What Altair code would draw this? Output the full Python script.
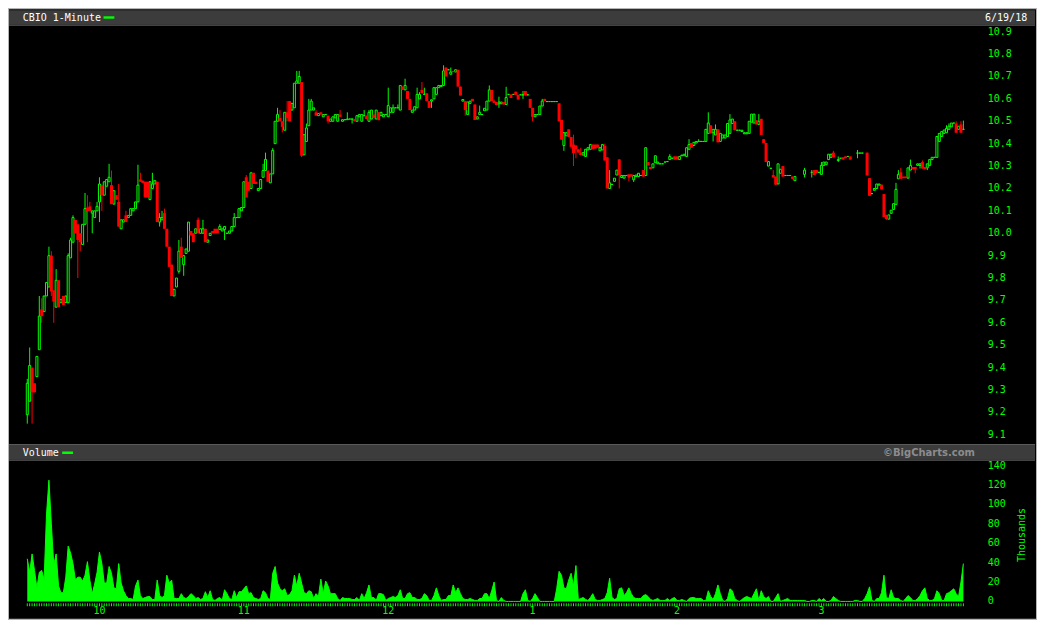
import altair as alt
import pandas as pd

# ---------------- canvas ----------------
W, H = 1030, 612
SX, SY = W / 1045.0, H / 635.0


def px(v):
    return round(v * SX, 2)


def py(v):
    return round(v * SY, 2)


GREEN = "#00ff00"
RED = "#ff0000"
MONO = "DejaVu Sans Mono"

# ---------------- data ----------------
ticker_title = "CBIO 1-Minute"
date_label = "6/19/18"

# 1-minute candles, 9:30 .. 15:59 (index = minutes after 9:30); None = no trade
opens = [
    9.19, 9.25, 9.40, 9.33, 9.36, 9.48, 9.66, 9.65, 9.72, 9.76,
    9.90, 9.745, 9.67, 9.79, 9.69, 9.72, 9.69, 9.69, 9.89, 9.96,
    10.06, 10.04, 10.00, 9.95, 10.04, 10.115, 10.12, 10.09, 10.07, 10.10,
    10.14, 10.215, 10.17, 10.21, 10.23, 10.215, 10.13, 10.17, 10.14, 10.02,
    10.05, 10.08, 10.07, 10.08, 10.10, 10.11, 10.14, 10.24, 10.235, 10.23,
    10.23, 10.15, 10.20, 10.22, 10.23, 10.05, 10.06, 10.09, 10.02, 9.94,
    9.86, 9.72, 9.76, 9.83, 9.94, 9.86, 9.91, 9.92, 10.01, 10.00,
    10.00, 10.06, 10.00, 10.00, 10.02, 9.96, 9.99, 10.01, 10.02, 10.02,
    10.017, 10.01, 10.017, 10.00, 10.00, 10.01, 10.03, 10.07, 10.07, 10.10,
    10.115, 10.25, 10.23, 10.20, 10.27, 10.23, 10.19, 10.20, 10.25, 10.28,
    10.28, 10.225, 10.265, 10.40, 10.50, 10.515, 10.50, 10.46, 10.54, 10.59,
    10.55, 10.56, 10.67, 10.67, 10.675, 10.35, 10.41, 10.48, 10.55, 10.55,
    10.54, 10.525, 10.54, 10.52, 10.53, 10.525, 10.50, 10.50, 10.515, 10.50,
    10.53, 10.50, 10.507, 10.507, 10.51, 10.51, 10.51, 10.50, 10.52, 10.50,
    10.525, 10.525, 10.50, 10.51, 10.53, 10.51, 10.54, 10.525, 10.52, 10.53,
    10.52, 10.54, 10.54, 10.56, 10.56, 10.55, 10.655, 10.64, 10.635, 10.60,
    10.54, 10.55, 10.56, 10.60, 10.64, 10.62, 10.625, 10.59, 10.59, 10.60,
    10.62, 10.65, 10.655, 10.66, 10.74, 10.73, 10.71, 10.725, 10.72, 10.73,
    10.655, 10.59, 10.59, 10.53, 10.58, 10.60, 10.575, 10.51, 10.53, 10.53,
    10.547, 10.55, 10.59, 10.64, 10.59, 10.586, 10.578, 10.578, 10.586, 10.575,
    10.62, 10.62, 10.62, 10.632, 10.618, 10.618, 10.618, 10.635, 10.618, 10.60,
    10.56, 10.52, 10.53, 10.53, 10.568, 10.60, 10.588, 10.588, 10.588, 10.588,
    10.588, 10.58, 10.506, 10.392, 10.435, 10.464, 10.43, 10.396, 10.392, 10.375,
    10.36, 10.349, 10.343, 10.372, 10.375, 10.396, 10.396, 10.396, 10.368, 10.372,
    10.39, 10.339, 10.20, 10.218, 10.232, 10.26, 10.33, 10.249, 10.246, 10.258,
    10.263, 10.263, 10.239, 10.253, 10.253, 10.258, 10.282, 10.258, 10.318, 10.296,
    10.292, 10.315, 10.31, 10.31, 10.31, 10.318, 10.32, 10.329, 10.335, 10.343,
    10.343, 10.329, 10.346, 10.346, 10.343, 10.375, 10.403, 10.392, 10.403, 10.41,
    10.41, 10.41, 10.41, 10.446, 10.482, 10.449, 10.439, 10.464, 10.41, 10.425,
    10.425, 10.432, 10.446, 10.49, 10.50, 10.46, 10.46, 10.454, 10.444, 10.444,
    10.446, 10.496, 10.492, 10.504, 10.486, 10.511, 10.42, 10.403, 10.30, 10.29,
    10.26, 10.253, 10.22, 10.268, 10.30, 10.258, 10.258, 10.258, 10.253, 10.235,
    None, None, None, 10.263, None, None, 10.272, 10.282, 10.282, 10.272,
    10.263, 10.303, 10.306, 10.329, 10.339, 10.36, None, 10.325, 10.335, 10.339,
    10.343, 10.343, 10.343, None, None, 10.358, 10.358, 10.358, None, 10.36,
    10.246, 10.177, 10.192, 10.20, 10.215, 10.217, 10.175, 10.082, 10.063, 10.089,
    10.106, 10.129, 10.243, 10.272, 10.253, 10.253, 10.246, 10.282, 10.296, 10.296,
    10.303, 10.303, 10.318, 10.296, 10.292, 10.303, 10.329, 10.339, 10.339, 10.41,
    10.432, 10.446, 10.449, 10.464, 10.475, 10.492, 10.49, 10.464, 10.486, 10.464,
]

closes = [
    9.33, 9.41, 9.29, 9.29, 9.45, 9.63, 9.63, 9.72, 9.78, 9.90,
    9.74, 9.695, 9.79, 9.67, 9.705, 9.68, 9.72, 9.90, 9.97, 10.07,
    10.00, 9.97, 9.96, 10.04, 10.11, 10.10, 10.10, 10.10, 10.10, 10.12,
    10.22, 10.17, 10.23, 10.24, 10.25, 10.13, 10.19, 10.15, 10.03, 10.06,
    10.06, 10.05, 10.08, 10.11, 10.11, 10.14, 10.215, 10.23, 10.225, 10.16,
    10.16, 10.23, 10.22, 10.235, 10.05, 10.07, 10.07, 10.02, 9.94, 9.85,
    9.72, 9.75, 9.80, 9.92, 9.89, 9.90, 9.93, 10.05, 9.99, 9.96,
    10.02, 10.00, 10.02, 10.02, 9.96, 9.97, 10.00, 10.00, 10.00, 10.00,
    10.03, 10.02, 10.03, 10.00, 10.01, 10.03, 10.07, 10.07, 10.11, 10.115,
    10.23, 10.16, 10.19, 10.27, 10.22, 10.22, 10.20, 10.24, 10.28, 10.33,
    10.23, 10.265, 10.37, 10.50, 10.53, 10.50, 10.475, 10.54, 10.515, 10.50,
    10.58, 10.67, 10.68, 10.70, 10.346, 10.44, 10.47, 10.55, 10.59, 10.56,
    10.525, 10.535, 10.53, 10.53, 10.53, 10.50, 10.51, 10.52, 10.53, 10.53,
    10.52, 10.507, 10.507, 10.51, 10.51, 10.51, 10.50, 10.525, 10.53, 10.53,
    10.525, 10.51, 10.54, 10.55, 10.515, 10.55, 10.505, 10.54, 10.53, 10.53,
    10.57, 10.56, 10.56, 10.56, 10.56, 10.66, 10.64, 10.66, 10.60, 10.55,
    10.55, 10.565, 10.62, 10.62, 10.625, 10.62, 10.59, 10.56, 10.596, 10.65,
    10.65, 10.66, 10.66, 10.725, 10.70, 10.73, 10.72, 10.72, 10.73, 10.655,
    10.615, 10.597, 10.55, 10.586, 10.59, 10.59, 10.506, 10.52, 10.54, 10.53,
    10.558, 10.59, 10.64, 10.59, 10.582, 10.572, 10.586, 10.586, 10.575, 10.606,
    10.62, 10.604, 10.62, 10.618, 10.597, 10.618, 10.618, 10.615, 10.618, 10.56,
    10.52, 10.53, 10.53, 10.568, 10.59, 10.59, 10.588, 10.588, 10.588, 10.588,
    10.588, 10.50, 10.418, 10.449, 10.449, 10.43, 10.386, 10.358, 10.375, 10.36,
    10.349, 10.36, 10.375, 10.382, 10.396, 10.375, 10.378, 10.382, 10.382, 10.396,
    10.325, 10.20, 10.225, 10.218, 10.246, 10.282, 10.26, 10.258, 10.258, 10.258,
    10.249, 10.253, 10.258, 10.26, 10.268, 10.258, 10.253, 10.382, 10.303, 10.286,
    10.31, 10.346, 10.318, 10.31, 10.31, 10.318, 10.32, 10.343, 10.335, 10.329,
    10.329, 10.343, 10.349, 10.353, 10.382, 10.396, 10.382, 10.406, 10.41, 10.41,
    10.41, 10.41, 10.464, 10.492, 10.446, 10.464, 10.464, 10.406, 10.446, 10.439,
    10.439, 10.49, 10.506, 10.51, 10.46, 10.46, 10.46, 10.46, 10.449, 10.449,
    10.50, 10.532, 10.532, 10.486, 10.50, 10.439, 10.403, 10.318, 10.32, 10.29,
    10.249, 10.217, 10.31, 10.286, 10.253, 10.258, 10.258, 10.258, 10.243, 10.253,
    None, None, None, 10.282, None, None, 10.272, 10.26, 10.268, 10.272,
    10.303, 10.318, 10.318, 10.353, 10.353, 10.339, None, 10.329, 10.335, 10.329,
    10.335, 10.343, 10.329, None, None, 10.358, 10.358, 10.358, None, 10.258,
    10.167, 10.177, 10.20, 10.22, 10.22, 10.196, 10.072, 10.063, 10.082, 10.103,
    10.132, 10.196, 10.263, 10.243, 10.246, 10.246, 10.292, 10.303, 10.286, 10.286,
    10.31, 10.31, 10.289, 10.286, 10.31, 10.329, 10.339, 10.339, 10.432, 10.446,
    10.454, 10.461, 10.468, 10.478, 10.492, 10.492, 10.449, 10.478, 10.449, 10.464,
]

# upper / lower shadows that reach beyond the candle body (minute index: price)
wick_high = {
    0: 9.35, 1: 9.49, 5: 9.72, 6: 9.71, 9: 9.94, 10: 9.92, 12: 9.84, 17: 9.91,
    18: 9.98, 19: 10.08, 24: 10.18, 25: 10.17, 26: 10.14, 29: 10.14, 30: 10.25,
    34: 10.31, 35: 10.28, 38: 10.22, 41: 10.10, 46: 10.306, 47: 10.27, 52: 10.27,
    55: 10.09, 56: 10.10, 57: 10.11, 63: 9.97, 64: 9.98, 71: 10.07, 73: 10.06,
    80: 10.04, 86: 10.09, 91: 10.26, 98: 10.31, 99: 10.36,
    102: 10.38, 104: 10.56, 105: 10.55, 108: 10.59, 112: 10.725, 113: 10.725,
    116: 10.49, 117: 10.60, 118: 10.60, 120: 10.55, 130: 10.55, 133: 10.54,
    140: 10.55, 142: 10.55, 150: 10.65, 152: 10.575, 154: 10.575, 157: 10.69,
    162: 10.65, 163: 10.63, 164: 10.675, 165: 10.65, 173: 10.75, 176: 10.74,
    188: 10.57, 192: 10.66, 194: 10.597, 196: 10.61, 199: 10.654, 206: 10.635,
    214: 10.60, 227: 10.44, 230: 10.382, 240: 10.40, 242: 10.282, 267: 10.353,
    275: 10.42, 279: 10.42, 283: 10.54, 286: 10.486, 292: 10.532, 304: 10.532,
    310: 10.282, 323: 10.292, 326: 10.282, 330: 10.318, 335: 10.368, 337: 10.343,
    345: 10.372, 361: 10.225, 362: 10.282, 363: 10.292, 367: 10.329, 372: 10.325,
    382: 10.482, 383: 10.49, 386: 10.50, 388: 10.50, 389: 10.503,
}
wick_low = {
    0: 9.15, 2: 9.15, 6: 9.60, 10: 9.72, 11: 9.60, 21: 9.80, 22: 9.92, 25: 9.96,
    27: 10.00, 30: 10.05, 31: 10.10, 55: 10.03, 63: 9.82, 65: 9.81, 82: 9.97,
    106: 10.45, 108: 10.50, 114: 10.34, 125: 10.49, 135: 10.49, 168: 10.56,
    182: 10.525, 196: 10.56, 206: 10.60, 210: 10.50, 223: 10.368, 226: 10.378,
    227: 10.30, 228: 10.335, 246: 10.20, 250: 10.232, 252: 10.229, 285: 10.41,
    311: 10.215, 323: 10.249, 326: 10.249, 337: 10.318, 345: 10.335, 357: 10.06,
    369: 10.268, 371: 10.289, 374: 10.282,
}

# volume per minute, thousands of shares
volume = [
    44, 30, 49, 32, 14, 30, 32, 22, 90, 125,
    80, 38, 49, 16, 9, 9, 25, 57, 50, 39,
    22, 25, 25, 21, 27, 41, 22, 8, 18, 30,
    51, 39, 19, 19, 36, 29, 14, 13, 39, 19,
    11, 6, 3, 3, 2, 16, 22, 6, 3, 4,
    5, 5, 2, 2, 22, 6, 4, 6, 27, 19,
    22, 3, 3, 3, 8, 4, 3, 5, 8, 6,
    3, 4, 2, 3, 10, 4, 11, 2, 1, 3,
    4, 1, 12, 8, 3, 2, 11, 4, 10, 10,
    13, 16, 8, 9, 4, 3, 2, 3, 11, 9,
    3, 2, 29, 36, 19, 13, 11, 13, 6, 7,
    11, 27, 16, 29, 19, 9, 8, 11, 10, 3,
    8, 5, 23, 8, 21, 16, 8, 8, 8, 3,
    1, 4, 3, 3, 3, 2, 2, 4, 1, 8,
    3, 9, 17, 4, 4, 1, 8, 8, 7, 1,
    3, 4, 5, 4, 6, 12, 3, 3, 8, 9,
    4, 4, 2, 2, 3, 8, 6, 1, 1, 6,
    14, 6, 1, 2, 2, 6, 6, 17, 9, 14,
    8, 3, 2, 2, 3, 2, 1, 1, 3, 3,
    8, 8, 3, 11, 20, 1, 0, 4, 1, 0,
    0, 0, 0, 0, 0, 0, 8, 12, 1, 0,
    3, 8, 4, 0, 0, 0, 0, 0, 0, 0,
    13, 31, 27, 14, 13, 22, 29, 16, 37, 2,
    3, 4, 2, 1, 4, 8, 2, 1, 1, 2,
    3, 9, 24, 4, 2, 3, 13, 14, 6, 9,
    14, 8, 4, 3, 3, 3, 6, 7, 5, 2,
    1, 2, 3, 1, 1, 1, 3, 1, 3, 4,
    1, 1, 2, 1, 0, 3, 4, 4, 3, 3,
    3, 1, 1, 11, 5, 2, 8, 17, 8, 1,
    0, 3, 13, 11, 3, 1, 0, 2, 4, 5,
    4, 3, 8, 13, 1, 11, 5, 3, 5, 0,
    0, 4, 8, 0, 1, 2, 3, 1, 1, 1,
    1, 1, 1, 1, 0, 0, 1, 1, 0, 3,
    1, 3, 0, 0, 1, 5, 3, 1, 0, 0,
    0, 0, 0, 0, 1, 1, 0, 0, 3, 8,
    15, 1, 0, 3, 3, 9, 27, 4, 3, 12,
    4, 3, 3, 1, 0, 3, 6, 4, 1, 1,
    3, 6, 11, 14, 3, 1, 1, 3, 11, 8,
    1, 1, 8, 9, 11, 13, 8, 5, 20, 39,
]

price_ticks = [9.1, 9.2, 9.3, 9.4, 9.5, 9.6, 9.7, 9.8, 9.9, 10.0,
               10.1, 10.2, 10.3, 10.4, 10.5, 10.6, 10.7, 10.8, 10.9]
volume_ticks = [0, 20, 40, 60, 80, 100, 120, 140]
time_labels = ["10", "11", "12", "1", "2", "3"]
time_label_minutes = [30, 90, 150, 210, 270, 330]

# ---------------- tables ----------------
rows = []
for i, (o, c) in enumerate(zip(opens, closes)):
    if o is None or c is None:
        continue
    hi = max(o, c, wick_high.get(i, o))
    lo = min(o, c, wick_low.get(i, o))
    rows.append({"t": i, "open": o, "close": c, "high": hi, "low": lo,
                 "dir": "down" if c < o else "up"})
candles = pd.DataFrame(rows)
vol_df = pd.DataFrame({"t": list(range(len(volume))), "vol": volume})
pt_df = pd.DataFrame({"p": price_ticks})
vt_df = pd.DataFrame({"v": volume_ticks})
tl_df = pd.DataFrame({"m": time_label_minutes, "label": time_labels})
one = pd.DataFrame({"k": [0]})

# ---------------- scales ----------------
xs = alt.Scale(domain=[0, 389], range=[px(14.5), px(975.3)], nice=False, zero=False)
ps = alt.Scale(domain=[9.1, 10.9], range=[py(443), py(24.3)], nice=False, zero=False)
vs = alt.Scale(domain=[0, 140], range=[py(616), py(475)], nice=False)
X = alt.X("t:Q", scale=xs, axis=None)


def box(x1, x2, y1, y2, **kw):
    return alt.Chart(one).mark_rect(**kw).encode(
        x=alt.value(px(x1)), x2=alt.value(px(x2)),
        y=alt.value(py(y1)), y2=alt.value(py(y2)))


def label(text, x, y, **kw):
    return alt.Chart(one).mark_text(text=text, **kw).encode(
        x=alt.value(px(x)), y=alt.value(py(y)))


# header bars
title_bar = box(1, 1043, 2, 17, fill="#3c3c3c")
title_line = box(1, 1043, 17, 18, fill="#5a5a5a")
vol_bar = box(1, 1043, 453, 469, fill="#3c3c3c")
vol_line_top = box(1, 1043, 452.5, 453.5, fill="#5a5a5a")
vol_line = box(1, 1043, 469, 470, fill="#5a5a5a")

title_txt = label(ticker_title, 15, 10, align="left", baseline="middle",
                  font=MONO, fontSize=10, color="#ffffff")
title_sw = box(97, 108, 8.3, 10.8, fill=GREEN)
date_txt = label(date_label, 1035, 10, align="right", baseline="middle",
                 font=MONO, fontSize=10, color="#ffffff")
vol_txt = label("Volume", 15, 461.5, align="left", baseline="middle",
                font=MONO, fontSize=10, color="#ffffff")
vol_sw = box(55, 66, 460.3, 462.8, fill=GREEN)
copy_txt = label("©BigCharts.com", 982, 461.5, align="right", baseline="middle",
                 font="DejaVu Sans", fontSize=10, fontWeight="bold", color="#8c8c8c")
thousands = label("Thousands", 1030, 547, align="center", baseline="middle",
                  angle=270, font=MONO, fontSize=10, color=GREEN)

# candles
wicks = alt.Chart(candles).mark_rule(strokeWidth=1).encode(
    x=X,
    y=alt.Y("low:Q", scale=ps, axis=None),
    y2="high:Q",
    color=alt.Color("dir:N", scale=alt.Scale(domain=["up", "down"], range=[GREEN, RED]),
                    legend=None),
)
up_bodies = alt.Chart(candles).transform_filter(alt.datum.dir == "up").mark_bar(
    size=2, fill="#000000", stroke=GREEN, strokeWidth=1
).encode(x=X, y=alt.Y("open:Q", scale=ps, axis=None), y2="close:Q")
down_bodies = alt.Chart(candles).transform_filter(alt.datum.dir == "down").mark_bar(
    size=3, color=RED
).encode(x=X, y=alt.Y("open:Q", scale=ps, axis=None), y2="close:Q")

# volume
vol_area = alt.Chart(vol_df).mark_area(
    color=GREEN, opacity=1, line={"color": GREEN, "strokeWidth": 1}
).encode(x=X, y=alt.Y("vol:Q", scale=vs, axis=None))
minute_ticks = alt.Chart(vol_df).mark_rule(color=GREEN, strokeWidth=1).encode(
    x=X, y=alt.value(py(618)), y2=alt.value(py(621)))

# axis labels
price_lbl = alt.Chart(pt_df).mark_text(
    align="left", baseline="middle", font=MONO, fontSize=10, color=GREEN
).encode(x=alt.value(px(995)), y=alt.Y("p:Q", scale=ps, axis=None),
         text=alt.Text("p:Q", format=".1f"))
vol_lbl = alt.Chart(vt_df).mark_text(
    align="left", baseline="middle", font=MONO, fontSize=10, color=GREEN
).encode(x=alt.value(px(995)), y=alt.Y("v:Q", scale=vs, axis=None),
         text=alt.Text("v:Q", format="d"))
time_lbl = alt.Chart(tl_df).mark_text(
    align="center", baseline="middle", font=MONO, fontSize=10, color=GREEN
).encode(x=alt.X("m:Q", scale=xs, axis=None), y=alt.value(py(626)), text="label:N")

frame = box(0, 1045, 0, 635, fillOpacity=0, stroke="#b4b4b4", strokeWidth=2)

chart = alt.layer(
    title_bar, title_line, vol_bar, vol_line_top, vol_line,
    title_txt, title_sw, date_txt, vol_txt, vol_sw, copy_txt, thousands,
    wicks, up_bodies, down_bodies,
    vol_area, minute_ticks,
    price_lbl, vol_lbl, time_lbl,
    frame,
).resolve_scale(y="independent").properties(
    width=W, height=H,
    autosize=alt.AutoSizeParams(type="none"),
    padding=0,
).configure(background="#000000").configure_view(strokeWidth=0, fill="#000000")

chart.save("out.html", embed_options={"renderer": "svg", "actions": False})
